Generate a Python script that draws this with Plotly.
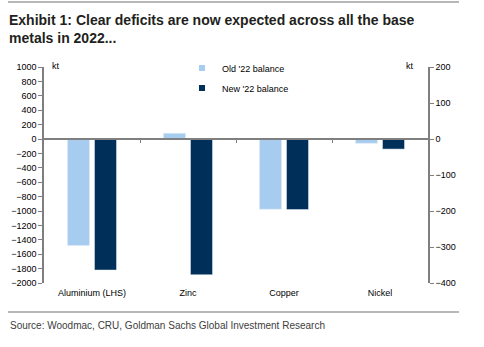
import plotly.graph_objects as go

categories = ["Aluminium (LHS)", "Zinc", "Copper", "Nickel"]
old_lhs = [-1480, None, None, None]
new_lhs = [-1820, None, None, None]
old_rhs = [None, 16, -195, -12]
new_rhs = [None, -377, -196, -28]
left_ticks = list(range(-2000, 1001, 200))
right_ticks = list(range(-400, 201, 100))

LIGHT = "#a6cdf0"
DARK = "#003059"
FONT = "Liberation Sans, Arial, sans-serif"
AX = "#7f7f7f"

fig = go.Figure()
fig.add_bar(x=categories, y=old_lhs, marker_color=LIGHT, offsetgroup="old",
            name="Old '22 balance", showlegend=False, yaxis="y")
fig.add_bar(x=categories, y=new_lhs, marker_color=DARK, offsetgroup="new",
            name="New '22 balance", showlegend=False, yaxis="y")
fig.add_bar(x=categories, y=old_rhs, marker_color=LIGHT, offsetgroup="old",
            name="Old '22 balance", showlegend=False, yaxis="y2")
fig.add_bar(x=categories, y=new_rhs, marker_color=DARK, offsetgroup="new",
            name="New '22 balance", showlegend=False, yaxis="y2")
# legend entries
fig.add_scatter(x=[None], y=[None], mode="markers", name="Old '22 balance",
                marker=dict(symbol="square", size=6, color=LIGHT), legend="legend")
fig.add_scatter(x=[None], y=[None], mode="markers", name="New '22 balance",
                marker=dict(symbol="square", size=6, color=DARK), legend="legend2")
# invisible trace for zero-line tick axis
fig.add_scatter(x=[0.5, 1.5, 2.5], y=[0, 0, 0], xaxis="x2", yaxis="y",
                mode="markers", marker=dict(opacity=0), showlegend=False, hoverinfo="skip")

W, H = 484, 347
L, R, T, B = 44, 56, 67, 64
pw, ph = W - L - R, H - T - B

def px_x(x):
    return (x - L) / pw

def px_y(y):
    return (H - B - y) / ph

fig.update_layout(
    width=W, height=H,
    margin=dict(l=L, r=R, t=T, b=B),
    paper_bgcolor="white", plot_bgcolor="white",
    barmode="group", bargap=0.4375, bargroupgap=0.185,
    font=dict(family=FONT, size=9, color="#000000"),
    xaxis=dict(range=[-0.5, 3.5], showline=False, ticks="", showgrid=False,
               tickfont=dict(size=9), ticklabelstandoff=3),
    xaxis2=dict(overlaying="x", anchor="free", position=2/3, range=[-0.5, 3.5],
                showline=True, linecolor=AX, linewidth=1.5, ticks="outside",
                ticklen=3, tickcolor=AX, tickvals=[0.5, 1.5, 2.5],
                showticklabels=False, showgrid=False, zeroline=False),
    yaxis=dict(range=[-2000, 1000], tickvals=left_ticks, showline=True,
               linecolor=AX, linewidth=1.5, ticks="outside", ticklen=4,
               tickcolor=AX, showgrid=False, zeroline=False,
               tickfont=dict(size=9)),
    yaxis2=dict(range=[-400, 200], tickvals=right_ticks, overlaying="y",
                side="right", showline=True, linecolor=AX, linewidth=1.5,
                ticks="outside", ticklen=4, tickcolor=AX, showgrid=False,
                zeroline=False, tickfont=dict(size=9)),
    legend=dict(x=px_x(182), y=px_y(68), xanchor="left", yanchor="middle",
                bgcolor="rgba(0,0,0,0)", font=dict(size=9), itemwidth=30),
    legend2=dict(x=px_x(182), y=px_y(88), xanchor="left", yanchor="middle",
                 bgcolor="rgba(0,0,0,0)", font=dict(size=9), itemwidth=30),
    showlegend=True,
)

fig.add_annotation(text="<b>Exhibit 1: Clear deficits are now expected across all the base<br>metals in 2022...</b>",
                   xref="paper", yref="paper", x=px_x(7), y=px_y(10), xanchor="left",
                   yanchor="top", align="left", showarrow=False,
                   font=dict(family=FONT, size=14, color="#231f20"))
fig.add_annotation(text="Source: Woodmac, CRU, Goldman Sachs Global Investment Research",
                   xref="paper", yref="paper", x=px_x(8), y=px_y(325), xanchor="left",
                   yanchor="middle", showarrow=False,
                   font=dict(family=FONT, size=10, color="#404040"))
fig.add_annotation(text="kt", xref="paper", yref="paper", x=px_x(50), y=px_y(66),
                   xanchor="left", yanchor="middle", showarrow=False, font=dict(size=9))
fig.add_annotation(text="kt", xref="paper", yref="paper", x=px_x(416), y=px_y(66),
                   xanchor="right", yanchor="middle", showarrow=False, font=dict(size=9))
for yy in (2, 312):
    fig.add_shape(type="line", xref="paper", yref="paper", x0=px_x(8), x1=px_x(459),
                  y0=px_y(yy), y1=px_y(yy), line=dict(color="#a0a0a0", width=1.5))

fig.write_html("out.html")
